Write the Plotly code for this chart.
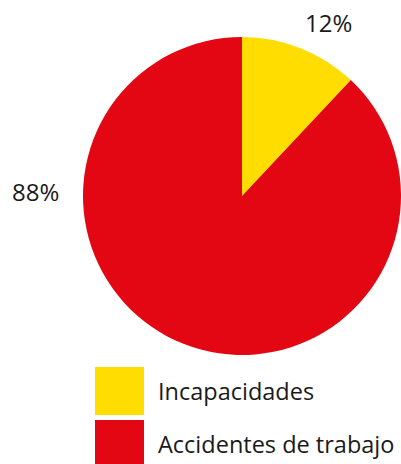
import plotly.graph_objects as go

categories = ["Incapacidades", "Accidentes de trabajo"]
values = [12, 88]
pct_labels = ["12%", "88%"]
colors = ["#FFDD00", "#E30613"]

W, H = 401, 464
FONT = "Open Sans"

fig = go.Figure(go.Pie(
    labels=categories, values=values, sort=False, direction="clockwise", rotation=0,
    marker=dict(colors=colors, line=dict(width=0)),
    textinfo="none", hoverinfo="label+percent", showlegend=False,
    domain=dict(x=[83 / W, 1.0], y=[(H - 355) / H, (H - 37) / H]),
))

# percentage labels
label_pos = [(328, 23), (35, 192)]
for txt, (px, py) in zip(pct_labels, label_pos):
    fig.add_annotation(x=px / W, y=1 - py / H, xref="paper", yref="paper", text=txt,
                       showarrow=False, font=dict(family=FONT, size=24, color="#1a1a1a"),
                       xanchor="center", yanchor="middle")

# legend
leg_tops = [367, 420]
for cat, col, top in zip(categories, colors, leg_tops):
    fig.add_shape(type="rect", xref="paper", yref="paper",
                  x0=95 / W, x1=144 / W, y0=1 - (top + 48) / H, y1=1 - top / H,
                  fillcolor=col, line=dict(width=0))
    fig.add_annotation(x=156 / W, y=1 - (top + 24) / H, xref="paper", yref="paper", text=cat,
                       showarrow=False, font=dict(family=FONT, size=23.5, color="#1a1a1a"),
                       xanchor="left", yanchor="middle")

fig.update_layout(width=W, height=H, margin=dict(l=0, r=0, t=0, b=0),
                  paper_bgcolor="white", plot_bgcolor="white")
fig.write_html("out.html", config={"displayModeBar": False},
               post_script="document.body.style.margin='0';")
